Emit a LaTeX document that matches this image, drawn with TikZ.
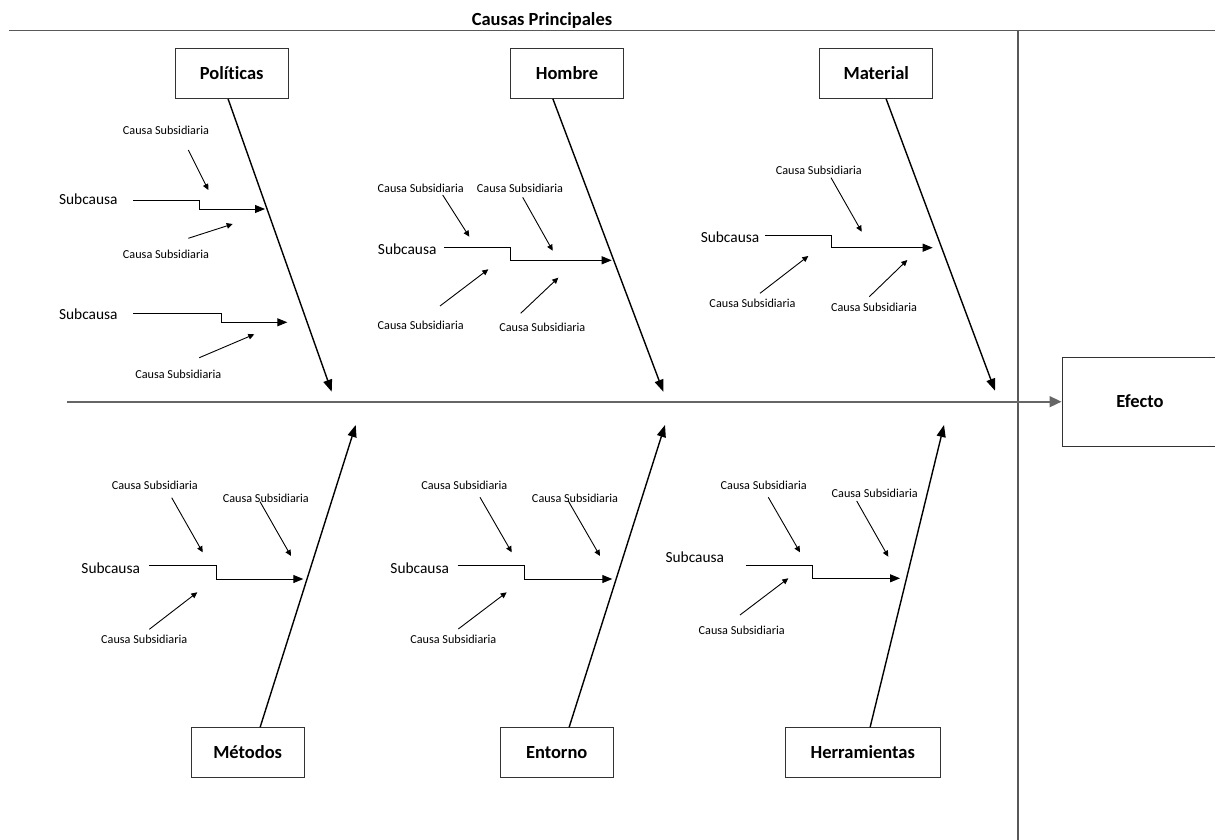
\documentclass[tikz,border=0pt]{standalone}
\usepackage{fontspec}
\setmainfont{Carlito}[Ligatures=NoCommon]
\usetikzlibrary{arrows.meta}
\tikzset{
    cause/.style = {rectangle, draw=black!80, line width=0.5pt, minimum width=56.5pt, minimum height=25pt, inner sep=0pt, text height=7.8pt, text depth=1.6pt, font=\fontsize{9.25}{11}\selectfont\bfseries},
    headline/.style = {inner sep=0pt, font=\fontsize{9.25}{11}\selectfont\bfseries},
    subc/.style = {inner sep=0pt, font=\fontsize{7.7}{9}\selectfont},
    subsid/.style = {inner sep=0pt, font=\fontsize{6.1}{7}\selectfont},
    frame/.style = {line width=0.6pt, draw=black!65},
    spine/.style = {-{Triangle[length=6pt,width=5.5pt]}, line width=0.8pt, draw=black!60},
    bone/.style = {-{Triangle[length=6pt,width=4.5pt]}, line width=0.7pt},
    subline/.style = {-{Triangle[length=5pt,width=4pt]}, line width=0.5pt}, % subcausa
    twig/.style = {-{Triangle[length=3pt,width=2.8pt]}, line width=0.45pt} % causa subsidiaria
}

\begin{document}
\begin{tikzpicture}[x=0.5pt, y=-0.5pt]
\useasboundingbox (0,0) rectangle (1215,840);
\node[headline] at (542,20.5) (title) {Causas Principales};
\coordinate (topL) at (9,30.5);
\coordinate (topR) at (1216,30.5);
\coordinate (vtop) at (1018,30.5);
\coordinate (vbot) at (1018,841);
\draw[frame] (topL) -- (topR);
\draw[frame] (vtop) -- (vbot);
\node[cause, minimum width=78pt, minimum height=44.3pt] at (1140,401.7) (eff) {Efecto};
\coordinate (spL) at (67,401.7);
\draw[spine] (spL) -- (eff);

\node[cause] at (231.7,73.5) (pol) {Políticas};
\node[cause] at (567,73.3) (hom) {Hombre};
\node[cause] at (876.3,73.3) (mat) {Material};
\node[cause] at (247.7,752.7) (met) {Métodos};
\node[cause] at (556.7,752.7) (ent) {Entorno};
\node[cause, minimum width=77.5pt] at (862.8,752.7) (her) {Herramientas};
\coordinate (polT) at (331.7,391.7);
\coordinate (homT) at (663.3,391.7);
\coordinate (matT) at (995,390.7);
\coordinate (metT) at (355.7,425);
\coordinate (entT) at (665,425);
\coordinate (herT) at (944,425);
\draw[bone] (pol.-98) -- (polT);
\draw[bone] (hom.-119) -- (homT);
\draw[bone] (mat.-69) -- (matT);
\draw[bone] (met.64) -- (metT);
\draw[bone] (ent.64) -- (entT);
\draw[bone] (her.74) -- (herT);

\node[subsid] at (166,130) (p1u) {Causa Subsidiaria};
\node[subc] at (88.3,199.3) (p1s) {Subcausa};
\node[subsid] at (166,254) (p1d) {Causa Subsidiaria};
\node[subc] at (88.3,314.3) (p2s) {Subcausa};
\node[subsid] at (178.3,374) (p2d) {Causa Subsidiaria};
\coordinate (p1ua) at (188.3,150);
\coordinate (p1ub) at (208.3,190);
\coordinate (p1sa) at (133.3,200.3);
\coordinate (p1sk) at (199.3,200.3);
\coordinate (p1sb) at (265,209);
\coordinate (p1da) at (188.3,238.3);
\coordinate (p1db) at (232.7,224);
\coordinate (p2sa) at (133.3,313.3);
\coordinate (p2sk) at (221.3,313.3);
\coordinate (p2sb) at (287.3,322.3);
\coordinate (p2da) at (199.3,357.7);
\coordinate (p2db) at (254.3,334.3);
\draw[twig] (p1ua) -- (p1ub);
\draw[subline] (p1sa) -- (p1sk) |- (p1sb);
\draw[twig] (p1da) -- (p1db);
\draw[subline] (p2sa) -- (p2sk) |- (p2sb);
\draw[twig] (p2da) -- (p2db);

\node[subsid] at (420.7,188.3) (h1ul) {Causa Subsidiaria};
\node[subsid] at (520,188.3) (h1ur) {Causa Subsidiaria};
\node[subc] at (407.2,249) (h1s) {Subcausa};
\node[subsid] at (420.7,325.7) (h1dl) {Causa Subsidiaria};
\node[subsid] at (542.3,327.3) (h1dr) {Causa Subsidiaria};
\coordinate (h1ula) at (442.7,195);
\coordinate (h1ulb) at (469.3,236.7);
\coordinate (h1ura) at (522.7,197.3);
\coordinate (h1urb) at (552.7,250.7);
\coordinate (h1sa) at (444.3,247.7);
\coordinate (h1sk) at (510.7,247.7);
\coordinate (h1sb) at (611.7,260.3);
\coordinate (h1dla) at (440,306);
\coordinate (h1dlb) at (488.3,269.3);
\coordinate (h1dra) at (520.7,313.3);
\coordinate (h1drb) at (558.3,277.7);
\draw[twig] (h1ula) -- (h1ulb);
\draw[twig] (h1ura) -- (h1urb);
\draw[subline] (h1sa) -- (h1sk) |- (h1sb);
\draw[twig] (h1dla) -- (h1dlb);
\draw[twig] (h1dra) -- (h1drb);

\node[subsid] at (818.8,170) (m1u) {Causa Subsidiaria};
\node[subc] at (730,237.3) (m1s) {Subcausa};
\node[subsid] at (752.5,303.3) (m1dl) {Causa Subsidiaria};
\node[subsid] at (874,307.7) (m1dr) {Causa Subsidiaria};
\coordinate (m1ua) at (831,177.7);
\coordinate (m1ub) at (861.7,231.7);
\coordinate (m1sa) at (765,235);
\coordinate (m1sk) at (831,235);
\coordinate (m1sb) at (932.7,247.7);
\coordinate (m1dla) at (760,293.3);
\coordinate (m1dlb) at (808.3,256);
\coordinate (m1dra) at (869.3,296.7);
\coordinate (m1drb) at (907.3,260);
\draw[twig] (m1ua) -- (m1ub);
\draw[subline] (m1sa) -- (m1sk) |- (m1sb);
\draw[twig] (m1dla) -- (m1dlb);
\draw[twig] (m1dra) -- (m1drb);

\node[subsid] at (154.8,485) (t1ul) {Causa Subsidiaria};
\node[subsid] at (265.8,498) (t1ur) {Causa Subsidiaria};
\node[subc] at (110.7,568.3) (t1s) {Subcausa};
\node[subsid] at (144.2,639) (t1d) {Causa Subsidiaria};
\coordinate (t1ula) at (171.7,497.7);
\coordinate (t1ulb) at (202.7,552.3);
\coordinate (t1ura) at (260,501.7);
\coordinate (t1urb) at (291,556);
\coordinate (t1sa) at (149.3,565);
\coordinate (t1sk) at (216,565);
\coordinate (t1sb) at (303.3,579);
\coordinate (t1da) at (149.3,629.3);
\coordinate (t1db) at (197.3,592.3);
\draw[twig] (t1ula) -- (t1ulb);
\draw[twig] (t1ura) -- (t1urb);
\draw[subline] (t1sa) -- (t1sk) |- (t1sb);
\draw[twig] (t1da) -- (t1db);

\node[subsid] at (464.3,485) (e1ul) {Causa Subsidiaria};
\node[subsid] at (575,498) (e1ur) {Causa Subsidiaria};
\node[subc] at (419.7,568.3) (e1s) {Subcausa};
\node[subsid] at (453.3,639) (e1d) {Causa Subsidiaria};
\coordinate (e1ula) at (480,497.3);
\coordinate (e1ulb) at (511.7,552.3);
\coordinate (e1ura) at (568.3,501);
\coordinate (e1urb) at (600,556);
\coordinate (e1sa) at (457.7,565);
\coordinate (e1sk) at (524.3,565);
\coordinate (e1sb) at (612.3,579);
\coordinate (e1da) at (458.3,629);
\coordinate (e1db) at (506.7,592.3);
\draw[twig] (e1ula) -- (e1ulb);
\draw[twig] (e1ura) -- (e1urb);
\draw[subline] (e1sa) -- (e1sk) |- (e1sb);
\draw[twig] (e1da) -- (e1db);

\node[subsid] at (763.7,485.7) (r1ul) {Causa Subsidiaria};
\node[subsid] at (874.7,493.3) (r1ur) {Causa Subsidiaria};
\node[subc] at (694.8,557.7) (r1s) {Subcausa};
\node[subsid] at (741.7,630.7) (r1d) {Causa Subsidiaria};
\coordinate (r1ula) at (768.3,497.3);
\coordinate (r1ulb) at (800,552.3);
\coordinate (r1ura) at (856.7,501);
\coordinate (r1urb) at (888.3,556.7);
\coordinate (r1sa) at (746,565);
\coordinate (r1sk) at (812.7,565);
\coordinate (r1sb) at (900,578.3);
\coordinate (r1da) at (740,615);
\coordinate (r1db) at (788.3,578.3);
\draw[twig] (r1ula) -- (r1ulb);
\draw[twig] (r1ura) -- (r1urb);
\draw[subline] (r1sa) -- (r1sk) |- (r1sb);
\draw[twig] (r1da) -- (r1db);
\end{tikzpicture}
\end{document}
